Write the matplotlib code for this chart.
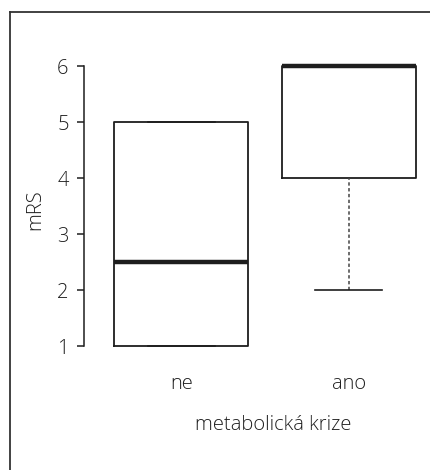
import matplotlib
matplotlib.use("Agg")
import matplotlib.pyplot as plt
from matplotlib.lines import Line2D

# box statistics per group (mRS by metabolic crisis)
groups = ["ne", "ano"]
medians = [2.5, 6.0]
q1 = [1.0, 4.0]
q3 = [5.0, 6.0]
whis_lo = [1.0, 2.0]
whis_hi = [5.0, 6.0]
yticks = [1, 2, 3, 4, 5, 6]

plt.rcParams["font.family"] = ["Open Sans", "DejaVu Sans"]
plt.rcParams["font.weight"] = "light"
TXT = "#1f1f1f"
LN = "#1e1e1e"
FS = 14.5

fig = plt.figure(figsize=(4.3, 4.7), dpi=100)
ax = fig.add_axes([84 / 430, 0.24, 1 - 84 / 430, 0.6434])

stats = [dict(label=g, med=m, q1=a, q3=b, whislo=lo, whishi=hi, fliers=[])
         for g, m, a, b, lo, hi in zip(groups, medians, q1, q3, whis_lo, whis_hi)]
ax.bxp(stats, positions=[1, 2], widths=0.8, showfliers=False,
       boxprops=dict(color=LN, linewidth=1.3),
       medianprops=dict(color=LN, linewidth=3.2, solid_capstyle="butt"),
       whiskerprops=dict(color="#444444", linewidth=1.1, linestyle=(1, (2.2, 1.6))),
       capprops=dict(color=LN, linewidth=1.2),
       capwidths=0.4)

ax.set_xlim(0.418, 2.484)
ax.set_ylim(0.8, 6.2)
for s in ("top", "right", "bottom"):
    ax.spines[s].set_visible(False)
ax.spines["left"].set_bounds(1, 6)
ax.spines["left"].set_color(LN)
ax.spines["left"].set_linewidth(1.1)
ax.set_yticks(yticks)
ax.tick_params(axis="y", length=5, width=1.1, color=LN, pad=6, labelsize=FS, labelcolor=TXT)
ax.set_xticks([1, 2])
ax.set_xticklabels(groups)
ax.tick_params(axis="x", length=0, pad=12, labelsize=FS, labelcolor=TXT)

fig.text(273 / 430, 1 - 425 / 470, "metabolická krize", ha="center", va="center",
         fontsize=FS, color=TXT)
fig.text(35 / 430, 1 - 210 / 470, "mRS", ha="center", va="center", rotation=90,
         fontsize=FS, color=TXT)

# outer frame (top and left edges visible)
fig.add_artist(Line2D([9.5 / 430, 1], [1 - 11.5 / 470, 1 - 11.5 / 470],
                      transform=fig.transFigure, color="#333333", linewidth=1.3))
fig.add_artist(Line2D([9.5 / 430, 9.5 / 430], [0, 1 - 11.5 / 470],
                      transform=fig.transFigure, color="#333333", linewidth=1.3))

fig.savefig("out.png", dpi=100)
